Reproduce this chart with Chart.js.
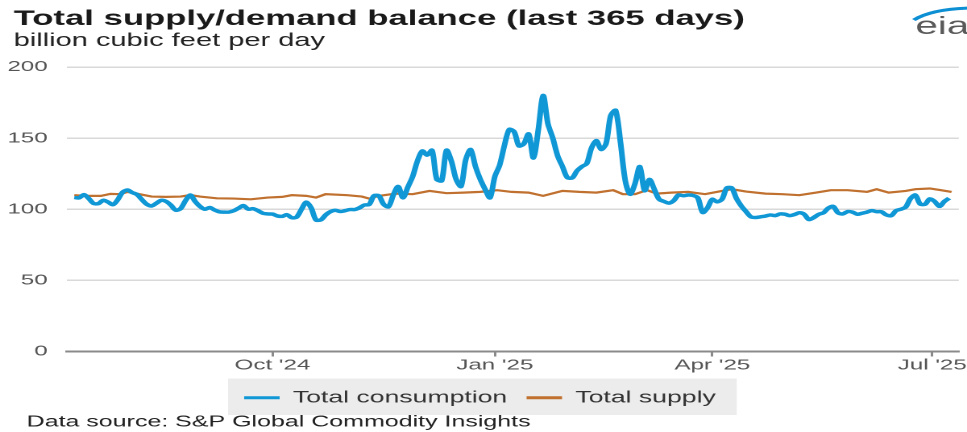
<!DOCTYPE html>
<html>
<head>
<meta charset="utf-8">
<script src="https://cdn.jsdelivr.net/npm/chart.js@4.4.1/dist/chart.umd.min.js"></script>
<style>
  html, body { margin: 0; padding: 0; background: #fff; overflow: hidden; }
</style>
</head>
<body>
<!-- the source graphic is horizontally stretched, so the canvas is drawn narrow and widened -->
<canvas id="chart" width="600" height="432" style="display:block;width:967px;height:432px"></canvas>
<script>
// day 0 = 2024-07-10
const startDate = Date.UTC(2024, 6, 10);
const dayOf = (s) => Math.round((Date.parse(s) - startDate) / 86400000);

// Total consumption, one reading every 2 days starting on day 1 (Bcf/d)
const consumption = [
  108.3, 108, 110.3, 107.5, 104, 104, 106.3, 105, 103.2, 106.8,
  112, 113.5, 111.7, 110.3, 106.7, 103.5, 102.3, 104.3, 106.3, 105.5,
  102.8, 99.3, 100.5, 106, 110, 105.5, 102, 100, 101.2, 99.5,
  98.2, 98, 98, 99, 100.8, 102.6, 100, 100.4, 99, 97.2,
  96.7, 96.6, 95.3, 95, 96.2, 94, 94.5, 100, 105, 101,
  92.5, 92.5, 96, 98.3, 99.3, 98.4, 99, 99.8, 99.8, 101,
  103, 103.3, 109.5, 109.5, 103.5, 101.7, 110, 116, 108, 115.5,
  123, 134, 141, 138, 141.5, 121, 120, 141.5, 134, 121,
  116, 135, 142, 130, 121, 114, 108, 123, 131, 145,
  156.2, 154.5, 144.5, 146, 153, 136, 156, 180, 160, 150,
  137.5, 130, 122.3, 122, 127, 130, 132, 143, 148.3, 142,
  146, 166, 169.5, 147, 120, 110.5, 118, 130, 113, 121,
  114, 107, 105.5, 104.3, 106, 110, 109.5, 110, 109.7, 108,
  97.7, 101, 107, 105.2, 107, 115, 115, 107.5, 102.3, 98.3,
  94.6, 94.2, 94.7, 95.2, 96, 95.5, 96.7, 96.5, 95.5, 96.3,
  97.5, 96.5, 92.7, 94.2, 96.4, 97.5, 100.8, 102, 97.5, 96.7,
  98.4, 98, 96.5, 97.2, 98, 99, 98.3, 98.2, 96, 95.5,
  99, 100, 101.5, 107.5, 110, 103.7, 103.5, 107.3, 105.5, 102,
  105.5, 107.8
];
const consumptionDays = consumption.map((_, i) => 1 + 2 * i);

// Total supply (Bcf/d)
const supplyDays = [1, 6, 12, 16, 20, 23, 28, 33, 39, 45, 49, 53, 60, 67, 74, 81, 87, 91, 97, 101,
  105, 114, 120, 123, 127, 134, 141, 148, 155, 162, 169, 176, 182, 189, 195, 203, 210, 217, 224, 228,
  233, 238, 242, 248, 255, 262, 269, 273, 279, 287, 294, 301, 308, 314, 321, 329, 333, 338, 345, 349,
  355, 359, 364];
const supply = [109.9, 109.4, 109.4, 110.8, 110.6, 112.2, 110.6, 108.9, 108.7, 108.9,
  110, 108.9, 107.7, 107.5, 107, 108.2, 108.7, 109.9, 109.4, 108.2,
  110.6, 109.9, 108.9, 107.5, 109.4, 111, 110.6, 112.9, 111.3, 111.7,
  112.2, 113.4, 112.2, 111.7, 109.4, 112.9, 112.2, 111.7, 113.4, 110.6,
  110.6, 113.4, 111, 111.7, 112.2, 110.6, 112.9, 114.1, 112.4, 111,
  110.6, 109.9, 111.7, 113.4, 113.4, 112.2, 114.1, 111.7, 112.9, 114.1,
  114.6, 113.6, 112.2];

const tickDates = ['2024-10-01', '2025-01-01', '2025-04-01', '2025-07-01'];
const tickLabels = ["Oct '24", "Jan '25", "Apr '25", "Jul '25"];
const tickDays = tickDates.map(dayOf);
const yTicks = [0, 50, 100, 150, 200];

const FONT = '"Liberation Sans", Arial, sans-serif';
const BLUE = '#1097d5';
const BROWN = '#c0712f';

const decorations = {
  id: 'decorations',
  beforeDraw(chart) {
    const ctx = chart.ctx;
    const boxes = chart.legend.legendHitBoxes;
    if (boxes && boxes.length) {
      const first = boxes[0];
      const last = boxes[boxes.length - 1];
      const x0 = first.left - 10;
      const x1 = last.left + last.width + 13;
      ctx.save();
      ctx.fillStyle = '#ececec';
      ctx.fillRect(x0, first.top - 11, x1 - x0, first.height + 20);
      ctx.restore();
    }
  },
  afterDraw(chart) {
    const ctx = chart.ctx;
    ctx.save();
    ctx.textBaseline = 'middle';
    ctx.textAlign = 'left';
    ctx.fillStyle = '#1a1a1a';
    ctx.font = 'bold 21.5px ' + FONT;
    ctx.fillText('Total supply/demand balance (last 365 days)', 8.5, 19);
    ctx.fillStyle = '#222';
    ctx.font = '18px ' + FONT;
    ctx.fillText('billion cubic feet per day', 8.5, 41);
    ctx.font = '15.5px ' + FONT;
    ctx.fillText('Data source: S&P Global Commodity Insights', 16.5, 422);
    // eia logo
    ctx.fillStyle = '#5a5a5a';
    ctx.font = '25px ' + FONT;
    ctx.textBaseline = 'alphabetic';
    ctx.fillText('eia', 568, 34);
    ctx.strokeStyle = '#0d8fd3';
    ctx.lineWidth = 3;
    ctx.beginPath();
    ctx.moveTo(567, 20);
    ctx.quadraticCurveTo(578, 9, 602, 8);
    ctx.stroke();
    ctx.restore();
  }
};

new Chart(document.getElementById('chart'), {
  type: 'line',
  data: {
    datasets: [{
      label: 'Total consumption',
      data: consumptionDays.map((d, i) => ({ x: d, y: consumption[i] })),
      borderColor: BLUE,
      borderWidth: 3.5,
      pointRadius: 0,
      tension: 0.3
    }, {
      label: 'Total supply',
      data: supplyDays.map((d, i) => ({ x: d, y: supply[i] })),
      borderColor: BROWN,
      borderWidth: 2.2,
      pointRadius: 0,
      tension: 0
    }]
  },
  options: {
    responsive: false,
    devicePixelRatio: 2,
    animation: false,
    events: [],
    layout: { padding: { top: 67, left: 0, right: 4.4, bottom: 16 } },
    plugins: {
      legend: {
        position: 'bottom',
        labels: {
          boxWidth: 22,
          boxHeight: 3,
          padding: 12,
          color: '#333',
          font: { family: FONT, size: 16.5 },
          generateLabels: (chart) => chart.data.datasets.map((ds, i) => ({
            text: ds.label,
            fillStyle: ds.borderColor,
            strokeStyle: ds.borderColor,
            lineWidth: 0,
            hidden: false,
            datasetIndex: i,
            fontColor: '#333'
          }))
        }
      },
      tooltip: { enabled: false },
      title: { display: false }
    },
    scales: {
      x: {
        type: 'linear',
        min: -2,
        max: 367,
        afterBuildTicks: (scale) => { scale.ticks = tickDays.map(v => ({ value: v })); },
        afterFit: (scale) => { scale.height = 26; },
        ticks: {
          autoSkip: false,
          maxRotation: 0,
          padding: 0,
          color: '#555',
          font: { family: FONT, size: 15 },
          callback: (v) => tickLabels[tickDays.indexOf(v)]
        },
        grid: { drawOnChartArea: false, drawTicks: true, tickLength: 5, color: '#8a8a8a', lineWidth: 1.5 },
        border: { display: true, color: '#8a8a8a', width: 2 }
      },
      y: {
        min: 0,
        max: 200,
        afterBuildTicks: (scale) => { scale.ticks = yTicks.map(v => ({ value: v })); },
        afterFit: (scale) => { scale.width = 41.6; },
        ticks: {
          padding: 12,
          color: '#555',
          font: { family: FONT, size: 15 }
        },
        grid: { color: '#d9d9d9', lineWidth: 1.5, drawTicks: false },
        border: { display: false }
      }
    }
  },
  plugins: [decorations]
});
</script>
</body>
</html>
